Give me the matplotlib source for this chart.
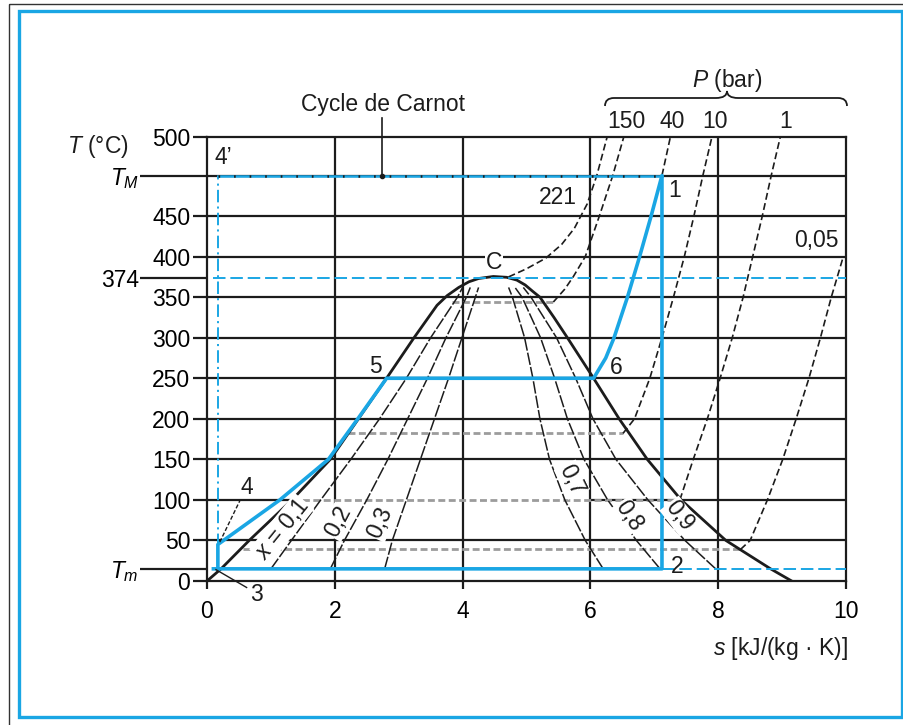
import matplotlib
matplotlib.use("Agg")
import matplotlib.pyplot as plt
import matplotlib.transforms as mtransforms
from matplotlib.patches import Rectangle, PathPatch
from matplotlib.path import Path

plt.rcParams.update({"font.family": ["Liberation Sans", "DejaVu Sans"], "font.size": 16.5,
                     "mathtext.fontset": "custom", "mathtext.rm": "Liberation Sans",
                     "mathtext.it": "Liberation Sans:italic", "lines.scale_dashes": False,
                     "text.color": "#1c1c1c"})

BLUE = "#1AA6E4"
GREY = "#9C9C9C"
INK = "#1c1c1c"

# saturation dome (s in kJ/(kg K), T in degC)
dome_s = [0.0, 0.22, 0.66, 1.33, 1.93, 2.37, 2.81, 3.24, 3.42, 3.60, 3.76, 3.94, 4.10, 4.25, 4.48,
          4.69, 4.85, 4.98, 5.10, 5.21, 5.43, 5.64, 6.05, 6.45, 6.89, 7.42, 8.12, 8.82, 9.15]
dome_T = [0, 15, 50, 100, 150, 200, 250, 300, 320, 340, 352, 362, 369, 373, 375.5,
          374.5, 371, 365, 357, 350, 325, 300, 250, 200, 150, 100, 50, 15, 0]

# lines of constant quality x
qual_T = [15, 50, 100, 150, 200, 250, 300, 350, 362]
q01 = [1.00, 1.32, 1.78, 2.25, 2.70, 3.12, 3.50, 3.92, 4.00]
q02 = [1.93, 2.15, 2.50, 2.83, 3.14, 3.45, 3.74, 4.06, 4.12]
q03 = [2.78, 2.90, 3.12, 3.34, 3.56, 3.78, 3.99, 4.20, 4.25]
q07 = [6.20, 5.92, 5.60, 5.36, 5.21, 5.10, 4.97, 4.78, 4.72]
q08 = [7.09, 6.72, 6.27, 5.90, 5.64, 5.44, 5.22, 4.93, 4.82]
q09 = [7.96, 7.48, 6.90, 6.40, 6.04, 5.77, 5.47, 5.07, 4.95]
qual_labels = ["$x$ = 0,1", "0,2", "0,3", "0,7", "0,8", "0,9"]

# isobars in the superheated region
p221_s = [4.72, 5.00, 5.30, 5.55, 5.75, 5.95, 6.10, 6.26]
p221_T = [375, 385, 398, 415, 435, 465, 500, 547]
p150_s = [5.42, 5.60, 5.73, 5.92, 6.14, 6.35, 6.52]
p150_T = [344, 360, 375, 400, 450, 500, 547]
p40_s = [7.12, 7.25]
p40_T = [500, 547]
p10_s = [6.51, 6.69, 6.93, 7.12, 7.30, 7.47, 7.62, 7.76, 7.90]
p10_T = [182, 200, 250, 300, 350, 400, 450, 500, 547]
p1_s = [7.40, 7.61, 7.83, 8.03, 8.22, 8.39, 8.54, 8.69, 8.83, 8.97]
p1_T = [100, 150, 200, 250, 300, 350, 400, 450, 500, 547]
p005_s = [8.35, 8.50, 8.77, 9.01, 9.22, 9.42, 9.60, 9.77, 9.95]
p005_T = [39, 50, 100, 150, 200, 250, 300, 350, 398]
p_labels = ["150", "40", "10", "1"]

# isobars inside the dome (liquid-vapour plateaus)
plat_T = [344, 182, 100, 39]
plat_s_liq = [3.83, 2.20, 1.33, 0.56]
plat_s_vap = [5.42, 6.51, 7.40, 8.35]

# Rankine-Hirn cycle 3-4-5-6-1-2-3
cyc_s = [0.17, 0.17, 1.14, 1.90, 2.36, 2.81, 6.05, 6.24, 6.37, 6.58, 6.77, 6.95, 7.12, 7.12, 0.10]
cyc_T = [15, 45, 100, 150, 200, 250, 250, 275, 300, 350, 400, 450, 500, 15, 15]

T_M, T_m, T_C = 500, 15, 374
s_carnot = 0.17
T_TOP = 547.5  # top border, labelled 500 on the original figure

fig = plt.figure(figsize=(9.04, 7.25), dpi=100)
ax = fig.add_axes([207/904, 1-581/725, 639/904, 444/725])
px = mtransforms.Affine2D().scale(1/904, -1/725).translate(0, 1) + fig.transFigure

# page frames
fig.patches.append(Rectangle((9, 4), 920, 740, transform=px, fill=False, ec="#333333", lw=1.0))
fig.patches.append(Rectangle((19, 11), 883, 706, transform=px, fill=False, ec=BLUE, lw=2.4))

ax.set_xlim(0, 10)
ax.set_ylim(0, T_TOP)
for sp in ax.spines.values():
    sp.set_linewidth(1.6); sp.set_color(INK)

# grid
for s in [2, 4, 6, 8]:
    ax.axvline(s, color=INK, lw=1.6, zorder=1)
for T in [50, 150, 200, 250, 300, 350, 400, 450, T_M]:
    ax.axhline(T, color=INK, lw=1.6, zorder=1)
ax.hlines([100, 100], [0, 6], [1.33, 10], color=INK, lw=1.6, zorder=1)

ax.set_xticks([0, 2, 4, 6, 8, 10])
ax.set_yticks([0, 50, 100, 150, 200, 250, 300, 350, 400, 450, T_TOP])
ax.set_yticklabels(["0", "50", "100", "150", "200", "250", "300", "350", "400", "450", "500"])
ax.set_yticks([T_m, T_C, T_M], minor=True)
ax.set_yticklabels(["$T_m$", "374", "$T_M$"], minor=True)
ax.tick_params(axis="x", length=6, width=1.6, pad=8, color=INK)
ax.tick_params(axis="y", which="major", length=10, width=1.6, pad=2, color=INK)
ax.tick_params(axis="y", which="minor", length=48, width=1.6, pad=1, color=INK)

# plateaus and isobars
for T, a, b in zip(plat_T, plat_s_liq, plat_s_vap):
    ax.plot([a, b], [T, T], color=GREY, lw=2.0, dashes=(5, 2.5), zorder=2)
for s, T in [(p221_s, p221_T), (p150_s, p150_T), (p40_s, p40_T), (p10_s, p10_T),
             (p1_s, p1_T), (p005_s, p005_T)]:
    ax.plot(s, T, color=INK, lw=1.2, dashes=(5, 2.5), zorder=2)

# quality lines
for q in [q01, q02, q03, q07, q08, q09]:
    ax.plot(q, qual_T, color=INK, lw=1.1, dashes=(9, 1.5), zorder=2)

# dome
ax.plot(dome_s, dome_T, color=INK, lw=2.0, zorder=3, solid_joinstyle="round")

# Carnot cycle and reference levels
ax.plot([s_carnot, s_carnot], [T_m, T_M], color=BLUE, lw=1.4, dashes=(9, 3, 1.5, 3), zorder=3)
ax.plot([s_carnot, cyc_s[12]], [T_M, T_M], color=BLUE, lw=1.8, zorder=4)
ax.plot([s_carnot, cyc_s[12]], [T_M, T_M], color=INK, lw=1.8, dashes=(1.2, 10), zorder=4)
ax.plot([0.1, 10], [T_C, T_C], color=BLUE, lw=1.4, dashes=(9, 3.5), zorder=3)
ax.plot([cyc_s[12], 10], [T_m, T_m], color=BLUE, lw=1.4, dashes=(9, 3.5), zorder=3)

# Rankine cycle
ax.plot(cyc_s, cyc_T, color=BLUE, lw=2.6, zorder=5, solid_joinstyle="round")

# point labels
box = dict(fc="white", ec="none", pad=0.5)
pts = [("1", 7.32, 482), ("2", 7.36, 18), ("3", 0.78, -17), ("4", 0.63, 115),
       ("4’", 0.25, 522), ("5", 2.64, 265), ("6", 6.40, 263)]
for t, s, T in pts:
    ax.text(s, T, t, ha="center", va="center", zorder=6, clip_on=False)
ax.text(4.49, 393, "C", ha="center", va="center", zorder=6, bbox=box)
ax.text(5.49, 473, "221", ha="center", va="center", zorder=6)
ax.text(9.53, 420, "0,05", ha="center", va="center", zorder=6)
ax.plot([0.14, 0.62], [14, -8], color=INK, lw=1.0, zorder=6, clip_on=False)
ax.plot([0.2, 0.52], [48, 100], color=INK, lw=1.0, dashes=(3, 1.5), zorder=6)

# quality labels
for lab, s, T, rot in zip(qual_labels, [1.17, 2.05, 2.71, 5.71, 6.60, 7.39],
                          [64, 73, 72, 125, 80, 80], [51, 62, 66, -64, -56, -52]):
    ax.text(s, T, lab, ha="center", va="center", rotation=rot, rotation_mode="anchor",
            zorder=6, bbox=box)

# Cycle de Carnot callout
ax.plot([2.74, 2.74], [T_M, 571], color=INK, lw=1.2, zorder=6, clip_on=False)
ax.plot([2.74], [T_M], "o", ms=3, color=INK, zorder=6)
fig.text(383/904, 1-104/725, "Cycle de Carnot", ha="center", va="center")

# pressure scale with brace
brace = Path([(605, 106), (605, 98), (614, 98), (716, 98), (727, 98), (727, 91),
              (727, 98), (738, 98), (838, 98), (847, 98), (847, 106)],
             [Path.MOVETO, Path.CURVE3, Path.CURVE3, Path.LINETO, Path.CURVE3, Path.CURVE3,
              Path.CURVE3, Path.CURVE3, Path.LINETO, Path.CURVE3, Path.CURVE3])
fig.patches.append(PathPatch(brace, transform=px, fill=False, ec=INK, lw=1.3))
fig.text(727/904, 1-80/725, "$P$ (bar)", ha="center", va="center")
for lab, x in zip(p_labels, [626, 672, 715, 786]):
    fig.text(x/904, 1-122/725, lab, ha="center", va="center")

# axis titles
fig.text(98/904, 1-147/725, "$T$ (°C)", ha="center", va="center")
fig.text(848/904, 1-648/725, "$s$ [kJ/(kg · K)]", ha="right", va="center")

fig.savefig("out.png", dpi=100)
